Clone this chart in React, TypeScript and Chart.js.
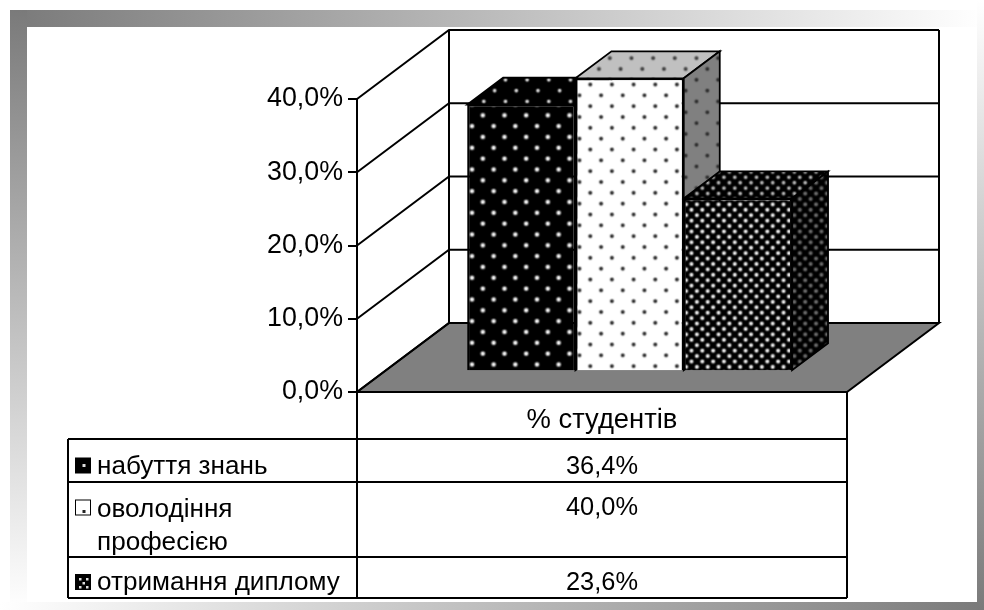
import React, { useEffect, useRef } from "react";
import { Chart, registerables } from "chart.js";

Chart.register(...registerables);

const categories = ["% студентів"];
const seriesNames = ["набуття знань", "оволодіння професією", "отримання диплому"];
const tableLabelLines = [["набуття знань"], ["оволодіння", "професією"], ["отримання диплому"]];
const knowledge = [36.4];
const profession = [40.0];
const diploma = [23.6];
const yTicks = [0, 10, 20, 30, 40];

const FONT = "'Liberation Sans', Arial, sans-serif";
const fmt = (v: number) => v.toFixed(1).replace(".", ",") + "%";

function dotted(ctx: CanvasRenderingContext2D, bg: string, dot: string, halo: string, cols: number, phx: number, phy: number, r: number) {
  const T = 65;
  const c = document.createElement("canvas");
  c.width = T;
  c.height = T;
  const g = c.getContext("2d")!;
  g.fillStyle = bg;
  g.fillRect(0, 0, T, T);
  const sp = T / cols;
  const rows = cols * 2;
  for (let j = -1; j <= rows; j++) {
    for (let i = -1; i <= cols; i++) {
      const x = phx + i * sp + (j % 2 !== 0 ? -sp / 2 : 0);
      const y = phy + (j * sp) / 2;
      const rg = g.createRadialGradient(x, y, 0, x, y, r);
      rg.addColorStop(0, dot);
      rg.addColorStop(0.35, dot);
      rg.addColorStop(1, halo);
      g.fillStyle = rg;
      g.beginPath();
      g.arc(x, y, r, 0, Math.PI * 2);
      g.fill();
    }
  }
  return ctx.createPattern(c, "repeat")!;
}

const DX = 92, DY = 69;
const BAR_FRAC = 0.3;
const BAR_DX = 36, BAR_DY = 27;

function line(ctx: CanvasRenderingContext2D, pts: number[][]) {
  ctx.beginPath();
  pts.forEach((p, i) => (i ? ctx.lineTo(p[0], p[1]) : ctx.moveTo(p[0], p[1])));
  ctx.stroke();
}
function poly(ctx: CanvasRenderingContext2D, pts: number[][]) {
  ctx.beginPath();
  pts.forEach((p, i) => (i ? ctx.lineTo(p[0], p[1]) : ctx.moveTo(p[0], p[1])));
  ctx.closePath();
}

export default function App() {
  const ref = useRef<HTMLCanvasElement>(null);
  useEffect(() => {
    const canvas = ref.current!;
    const ctx = canvas.getContext("2d")!;
    const fronts = [
      dotted(ctx, "#000", "#f0f0f0", "rgba(110,110,110,0.25)", 3, 0.2, 6, 3.2),
      dotted(ctx, "#fff", "#333", "rgba(150,150,150,0.2)", 3, 31.8, 7.7, 2.8),
      dotted(ctx, "#000", "#e8e8e8", "rgba(80,80,80,0.2)", 6, 3, 3, 3),
    ];
    const tops = [
      dotted(ctx, "#000", "#d0d0d0", "rgba(70,70,70,0.2)", 3, 12, 3, 2.8),
      dotted(ctx, "#c0c0c0", "#444", "rgba(120,120,120,0.2)", 3, 8, 3, 2.8),
      dotted(ctx, "#000", "#b0b0b0", "rgba(60,60,60,0.2)", 6, 3, 3, 2.8),
    ];
    const sides = [
      dotted(ctx, "#000", "#a0a0a0", "rgba(60,60,60,0.2)", 3, 8, 3, 2.8),
      dotted(ctx, "#808080", "#303030", "rgba(90,90,90,0.2)", 3, 8, 3, 2.8),
      dotted(ctx, "#000", "#686868", "rgba(40,40,40,0.2)", 6, 3, 3, 3),
    ];

    const plugin = {
      id: "excel3d",
      beforeDraw(chart: any) {
        const c = chart.ctx;
        const W = 984, H = 610;
        c.save();
        c.fillStyle = "#fff";
        c.fillRect(0, 0, W, H);
        let g = c.createLinearGradient(10, 0, W, 0);
        g.addColorStop(0, "#7a7a7a");
        g.addColorStop(1, "#ffffff");
        c.fillStyle = g;
        c.fillRect(10, 10, W - 10, 17);
        g = c.createLinearGradient(0, 10, 0, H);
        g.addColorStop(0, "#7a7a7a");
        g.addColorStop(1, "#ffffff");
        c.fillStyle = g;
        c.fillRect(10, 10, 17, H - 10);
        g = c.createLinearGradient(0, 0, W, 0);
        g.addColorStop(0, "#ffffff");
        g.addColorStop(1, "#7a7a7a");
        c.fillStyle = g;
        c.fillRect(0, 602, W, 8);
        g = c.createLinearGradient(0, 0, 0, H);
        g.addColorStop(0, "#ffffff");
        g.addColorStop(1, "#7a7a7a");
        c.fillStyle = g;
        c.fillRect(977, 0, 7, H);
        c.restore();
      },
      beforeDatasetsDraw(chart: any) {
        const c = chart.ctx;
        const { left, right, top, bottom } = chart.chartArea;
        const y = chart.scales.y;
        c.save();
        c.strokeStyle = "#000";
        c.lineWidth = 2;
        poly(c, [[left, bottom], [left + DX, bottom - DY], [right + DX, bottom - DY], [right, bottom]]);
        c.fillStyle = "#808080";
        c.fill();
        c.stroke();
        yTicks.forEach((t) => {
          const p = y.getPixelForValue(t);
          line(c, [[left, p], [left + DX, p - DY], [right + DX, p - DY]]);
        });
        line(c, [[left + DX, top - DY], [left + DX, bottom - DY]]);
        line(c, [[right + DX, top - DY], [right + DX, bottom - DY]]);
        c.restore();
        c.save();
        c.translate(DX * BAR_FRAC, -DY * BAR_FRAC);
        c.lineWidth = 1.8;
        c.strokeStyle = "#000";
        chart.data.datasets.forEach((_: any, i: number) => {
          const b = chart.getDatasetMeta(i).data[0];
          const l = b.x - b.width / 2;
          const r = b.x + b.width / 2;
          poly(c, [[l, b.y], [l + BAR_DX, b.y - BAR_DY], [r + BAR_DX, b.y - BAR_DY], [r, b.y]]);
          c.fillStyle = tops[i];
          c.fill();
          c.stroke();
          poly(c, [[r, b.y], [r + BAR_DX, b.y - BAR_DY], [r + BAR_DX, b.base - BAR_DY], [r, b.base]]);
          c.fillStyle = sides[i];
          c.fill();
          c.stroke();
        });
      },
      afterDatasetsDraw(chart: any) {
        const c = chart.ctx;
        c.restore();
        const { left, right, bottom } = chart.chartArea;
        const x = chart.scales.x.getPixelForValue(0);
        const rowLines = [439, 482, 557, 598];
        const tableLeft = 68;
        c.save();
        c.strokeStyle = "#000";
        c.lineWidth = 2;
        rowLines.forEach((ry) => line(c, [[tableLeft, ry], [right, ry]]));
        line(c, [[tableLeft, rowLines[0]], [tableLeft, rowLines[3]]]);
        line(c, [[left, bottom], [left, rowLines[3]]]);
        line(c, [[right, bottom], [right, rowLines[3]]]);
        c.textBaseline = "alphabetic";
        const valueY = [474, 515, 590];
        const keyY = [458, 500, 574.5];
        chart.data.datasets.forEach((ds: any, i: number) => {
          c.textAlign = "center";
          c.fillStyle = "#000";
          c.font = `25.4px ${FONT}`;
          c.fillText(fmt(ds.data[0]), x, valueY[i]);
          c.textAlign = "left";
          c.font = `26.1px ${FONT}`;
          tableLabelLines[i].forEach((t, k) => c.fillText(t, 97, (i === 1 ? 517 : valueY[i]) + k * 33));
          c.fillStyle = i === 1 ? "#fff" : "#000";
          c.fillRect(75.5, keyY[i], 15, 15);
          c.lineWidth = 1;
          c.strokeRect(75.5, keyY[i], 15, 15);
          c.fillStyle = i === 1 ? "#222" : "#ddd";
          const dots = i === 2 ? [[79, 578], [86, 578], [82.5, 582], [79, 586], [86, 586]] : [[82.5, keyY[i] + (i === 1 ? 10 : 6)]];
          dots.forEach((d) => c.fillRect(d[0], d[1], i === 2 ? 2.5 : 3, i === 2 ? 2.5 : 3));
        });
        c.restore();
      },
    };

    const chart = new Chart(canvas, {
      type: "bar",
      data: {
        labels: categories,
        datasets: [
          { label: seriesNames[0], data: knowledge, backgroundColor: fronts[0], borderColor: "#000", borderWidth: 2 },
          { label: seriesNames[1], data: profession, backgroundColor: fronts[1], borderColor: "#000", borderWidth: 2 },
          { label: seriesNames[2], data: diploma, backgroundColor: fronts[2], borderColor: "#000", borderWidth: 2 },
        ],
      },
      options: {
        responsive: false,
        animation: false,
        layout: { padding: { left: 0, top: 99, right: 137, bottom: 0 } },
        datasets: { bar: { barPercentage: 1, categoryPercentage: 0.663 } },
        plugins: { legend: { display: false }, title: { display: false }, tooltip: { enabled: false } },
        scales: {
          x: {
            afterFit: (s: any) => { s.height = 218; },
            grid: { display: false, drawTicks: false },
            border: { display: false },
            ticks: { color: "#000", font: { family: FONT, size: 27.4 }, padding: 12 },
          },
          y: {
            min: 0,
            max: 40,
            afterFit: (s: any) => { s.width = 357; },
            grid: { drawOnChartArea: false, color: "#000", lineWidth: 2, tickLength: 9 },
            border: { display: true, color: "#000", width: 2 },
            ticks: {
              stepSize: 10,
              color: "#000",
              font: { family: FONT, size: 26.8 },
              padding: 5,
              callback: (v: any) => fmt(Number(v)),
            },
          },
        },
      },
      plugins: [plugin],
    } as any);
    return () => chart.destroy();
  }, []);
  return <canvas ref={ref} width={984} height={610} style={{ position: "absolute", left: 0, top: 0, display: "block" }} />;
}
